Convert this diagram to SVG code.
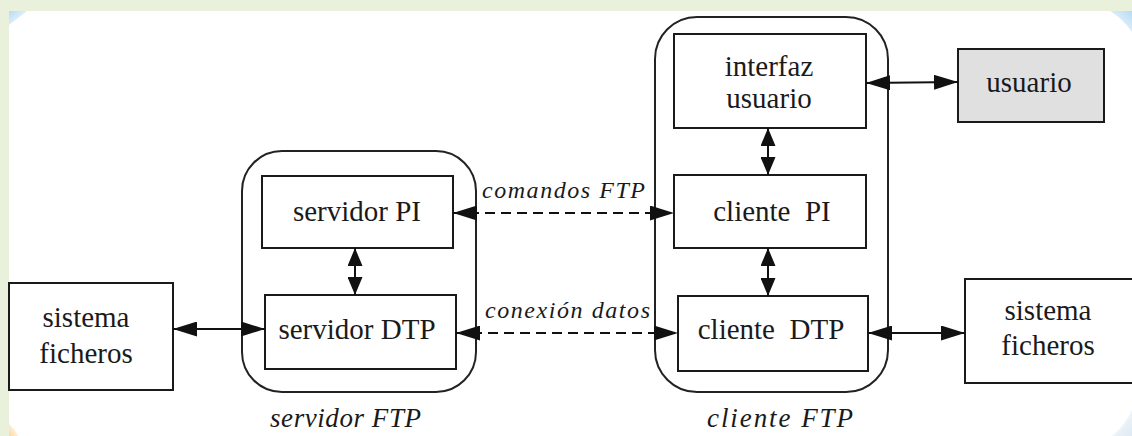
<svg xmlns="http://www.w3.org/2000/svg" width="1132" height="436" viewBox="0 0 1132 436">
<style>
.box{fill:#fff;stroke:#1a1a1a;stroke-width:2}
.grey{fill:#e0e0e0;stroke:#1a1a1a;stroke-width:2}
.cont{fill:none;stroke:#222;stroke-width:2}
.t{font-family:"Liberation Serif","Times New Roman",serif;font-size:29px;fill:#1a1a1a;text-anchor:middle}
.it{font-family:"Liberation Serif","Times New Roman",serif;font-style:italic;font-size:24px;fill:#1a1a1a}
.big{font-size:27px}
.ln{stroke:#111;stroke-width:2;fill:none}
.dash{stroke-dasharray:10 6}
</style>
<defs>
<marker id="ah" viewBox="0 0 24 15" refX="24" refY="7.5" markerWidth="24" markerHeight="15" markerUnits="userSpaceOnUse" orient="auto-start-reverse">
<path d="M0,0 L24,7.5 L0,15 z" fill="#111"/>
</marker>
<marker id="av" viewBox="0 0 18 15" refX="18" refY="7.5" markerWidth="18" markerHeight="15" markerUnits="userSpaceOnUse" orient="auto-start-reverse">
<path d="M0,0 L18,7.5 L0,15 z" fill="#111"/>
</marker>
<linearGradient id="blueTL" x1="0" y1="0" x2="1" y2="1"><stop offset="0" stop-color="#b6dbf5"/><stop offset="1" stop-color="#ffffff"/></linearGradient>
<linearGradient id="blueTR" x1="1" y1="0" x2="0" y2="1"><stop offset="0" stop-color="#b6dbf5"/><stop offset="1" stop-color="#ffffff"/></linearGradient>
<linearGradient id="blueBR" x1="1" y1="1" x2="0" y2="0"><stop offset="0" stop-color="#dde9f3"/><stop offset="1" stop-color="#ffffff"/></linearGradient>
<linearGradient id="orBL" x1="0" y1="1" x2="1" y2="0"><stop offset="0" stop-color="#fbd9a4"/><stop offset="1" stop-color="#ffffff"/></linearGradient>
</defs>
<rect width="1132" height="436" fill="#e9f0dc"/>
<rect x="9" y="11" width="1123" height="425" fill="#fff"/>
<path d="M9,11 L27,11 L9,25 z" fill="url(#blueTL)"/>
<path d="M1110,11 L1132,11 L1132,32 Q1122,18 1110,11 z" fill="url(#blueTR)"/>
<path d="M1132,410 L1132,436 L1112,436 Q1126,424 1132,410 z" fill="url(#blueBR)"/>
<path d="M9,424 L9,436 L18,436 Q14,428 9,424 z" fill="url(#orBL)"/>

<g id="servidor-ftp">
<rect class="cont" x="242" y="151" width="234" height="241" rx="40" ry="40"/>
<text class="it big" x="270" y="427" textLength="151" lengthAdjust="spacing">servidor  FTP</text>
</g>
<g id="cliente-ftp">
<rect class="cont" x="655" y="17" width="233" height="375" rx="42" ry="42"/>
<text class="it big" x="707" y="427" textLength="146" lengthAdjust="spacing">cliente FTP</text>
</g>

<g id="sistema-izq">
<rect class="box" x="9" y="283" width="164" height="107"/>
<text class="t" x="86" y="327">sistema</text>
<text class="t" x="86" y="363">ficheros</text>
</g>
<g id="servidor-pi">
<rect class="box" x="262" y="176" width="191" height="72"/>
<text class="t" x="357" y="221">servidor PI</text>
</g>
<g id="servidor-dtp">
<rect class="box" x="265" y="295" width="191" height="74"/>
<text class="t" x="357" y="339">servidor DTP</text>
</g>
<g id="interfaz-usuario">
<rect class="box" x="674" y="34" width="192" height="94"/>
<text class="t" x="769" y="76">interfaz</text>
<text class="t" x="769" y="108">usuario</text>
</g>
<g id="cliente-pi">
<rect class="box" x="674" y="175" width="192" height="73"/>
<text class="t" x="772" y="221" xml:space="preserve">cliente  PI</text>
</g>
<g id="cliente-dtp">
<rect class="box" x="678" y="296" width="190" height="75"/>
<text class="t" x="771" y="339" xml:space="preserve">cliente  DTP</text>
</g>
<g id="usuario">
<rect class="grey" x="958" y="49" width="146" height="73"/>
<text class="t" x="1029" y="92">usuario</text>
</g>
<g id="sistema-der">
<rect class="box" x="965" y="279" width="200" height="104"/>
<text class="t" x="1048" y="320">sistema</text>
<text class="t" x="1048" y="355">ficheros</text>
</g>

<g id="connectors">
<line class="ln" x1="173" y1="329" x2="265" y2="329" marker-start="url(#ah)" marker-end="url(#ah)"/>
<line class="ln" x1="355" y1="248" x2="355" y2="295" marker-start="url(#av)" marker-end="url(#av)"/>
<line class="ln dash" x1="453" y1="213" x2="674" y2="213" marker-start="url(#ah)" marker-end="url(#ah)"/>
<line class="ln dash" x1="456" y1="333" x2="678" y2="333" marker-start="url(#ah)" marker-end="url(#ah)"/>
<line class="ln" x1="768" y1="128" x2="768" y2="175" marker-start="url(#av)" marker-end="url(#av)"/>
<line class="ln" x1="768" y1="248" x2="768" y2="296" marker-start="url(#av)" marker-end="url(#av)"/>
<line class="ln" x1="866" y1="83" x2="958" y2="82" marker-start="url(#ah)" marker-end="url(#ah)"/>
<line class="ln" x1="868" y1="333" x2="965" y2="333" marker-start="url(#ah)" marker-end="url(#ah)"/>
<text class="it" x="482" y="198" textLength="163" lengthAdjust="spacing">comandos FTP</text>
<text class="it" x="485" y="318" textLength="165" lengthAdjust="spacing">conexión datos</text>
</g>
</svg>
